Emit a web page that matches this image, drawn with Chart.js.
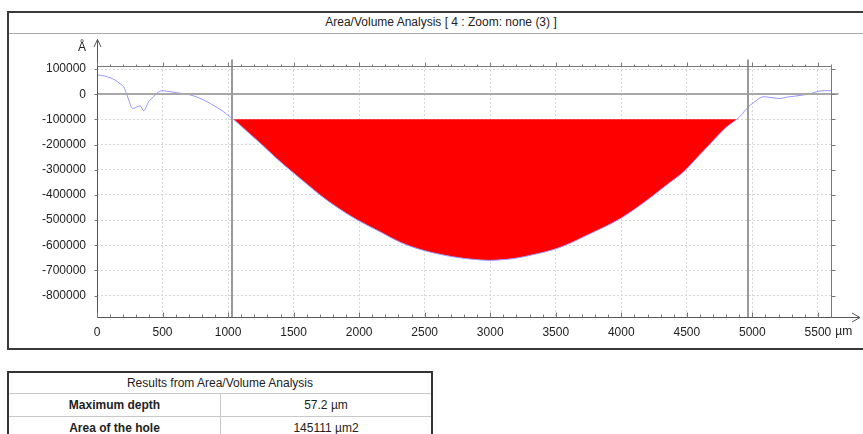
<!DOCTYPE html>
<html>
<head>
<meta charset="utf-8">
<script src="https://cdn.jsdelivr.net/npm/chart.js@4.4.1/dist/chart.umd.min.js"></script>
<style>
  body { margin: 0; background: #fff; font-family: "Liberation Sans", Arial, sans-serif; }
  #page { position: relative; width: 863px; height: 434px; overflow: hidden; }
  #frame { position: absolute; left: 7px; top: 11px; width: 890px; height: 335px; border: 2px solid #3a3a3a; border-right: none; }
  #title { position: absolute; left: 0; top: 0; width: 864px; height: 20px; border-bottom: 1px solid #a8a8a8; text-align: center; font-size: 12px; line-height: 19px; color: #222; }
  #chartBox { position: absolute; left: 0; top: 0; width: 863px; height: 350px; }
  #results { position: absolute; left: 7px; top: 371px; width: 426px; border-collapse: collapse; border: 2px solid #333; font-size: 12px; color: #222; }
  #results td { border: 1px solid #c8c8c8; text-align: center; padding: 0; }
  #results tr.head td { height: 20px; }
  #results tr.row td { height: 22px; }
  #results td.key { font-weight: bold; width: 211px; }
</style>
</head>
<body>
<div id="page">
  <div id="frame"><div id="title">Area/Volume Analysis [ 4 : Zoom: none (3) ]</div></div>
  <div id="chartBox"><canvas id="profileChart" width="863" height="350"></canvas></div>
  <table id="results">
    <tr class="head"><td colspan="2">Results from Area/Volume Analysis</td></tr>
    <tr class="row"><td class="key">Maximum depth</td><td>57.2 µm</td></tr>
    <tr class="row"><td class="key">Area of the hole</td><td>145111 µm2</td></tr>
  </table>
</div>
<script>
// profile: position (µm) and height (Å)
const profileX = [0, 60, 138, 180, 203, 229, 250, 267, 290, 305, 330, 356, 372, 394, 412, 432, 460, 496, 530, 560,
  620, 712, 780, 840, 900, 967, 1000, 1042, 1150, 1247, 1360, 1475, 1590, 1704, 1840, 1981, 2162, 2323, 2489, 2600,
  2718, 2850, 2998, 3100, 3179, 3330, 3484, 3610, 3738, 3870, 3993, 4120, 4247, 4360, 4476, 4578, 4650, 4705, 4760,
  4806, 4850, 4882, 4920, 4959, 5010, 5086, 5150, 5213, 5260, 5320, 5391, 5450, 5493, 5550, 5600];
const profileY = [77000, 72000, 56000, 40000, 30000, -3000, -35000, -56000, -55000, -50000, -47000, -66000, -55000, -30000, -20000, -10000, 5000, 14000, 12000, 10000,
  5000, -3000, -15000, -30000, -48000, -70000, -84000, -100000, -150000, -195000, -250000, -302000, -352000, -401000, -452000, -498000, -547000, -590000, -620000, -634000,
  -646000, -655000, -660000, -657000, -653000, -637000, -617000, -592000, -560000, -528000, -494000, -450000, -401000, -355000, -308000, -252000, -213000, -182000, -152000,
  -129000, -112000, -100000, -80000, -56000, -33000, -10000, -14000, -17000, -12000, -8000, -3000, 3000, 10000, 14000, 14000];

const xTicks = [0, 500, 1000, 1500, 2000, 2500, 3000, 3500, 4000, 4500, 5000, 5500];
const yTicks = [100000, 0, -100000, -200000, -300000, -400000, -500000, -600000, -700000, -800000];
const cursors = [1030, 4965];
const refLevel = -100000;

const profile = profileX.map((x, i) => ({ x: x, y: profileY[i] }));
const hole = profile.filter(p => p.y <= refLevel);

const font = { family: '"Liberation Sans", Arial, sans-serif', size: 12 };

function seg(ctx, x1, y1, x2, y2) {
    ctx.beginPath();
    ctx.moveTo(x1, y1);
    ctx.lineTo(x2, y2);
    ctx.stroke();
}

const decor = {
    id: 'decor',
    afterDatasetsDraw(chart) {
        const { ctx, chartArea: a, scales: { x, y } } = chart;
        const L = Math.round(a.left) + 0.5, R = Math.round(a.right) + 0.5;
        const T = Math.round(a.top) + 0.5, B = Math.round(a.bottom) + 0.5;
        ctx.save();

        // zero line
        ctx.strokeStyle = '#a8a8a8';
        ctx.lineWidth = 2;
        const zy = Math.round(y.getPixelForValue(0));
        seg(ctx, L, zy, R + 7, zy);

        // cursor lines
        ctx.strokeStyle = '#9a9a9a';
        cursors.forEach(v => {
            const px = Math.round(x.getPixelForValue(v));
            seg(ctx, px, T - 7, px, B);
        });

        // frame + axes
        ctx.lineWidth = 1;
        ctx.strokeStyle = '#7a7a7a';
        seg(ctx, L, T, R, T);
        seg(ctx, R, T, R, B);
        ctx.strokeStyle = '#555';
        seg(ctx, L, B, 860, B);
        seg(ctx, L, B, L, 39.5);
        // arrow heads
        seg(ctx, L, 39.5, L - 3.5, 47);
        seg(ctx, L, 39.5, L + 3.5, 47);
        seg(ctx, 860, B, 852, B - 4.5);
        seg(ctx, 860, B, 852, B + 4.5);

        // x minor/major ticks on bottom axis and top ruler
        ctx.strokeStyle = '#777';
        for (let v = 0; v <= x.max; v += 100) {
            const px = Math.round(x.getPixelForValue(v)) + 0.5;
            const len = v % 500 === 0 ? 5 : 3;
            seg(ctx, px, B, px, B - len);
            seg(ctx, px, T, px, T - len + 1);
        }
        // y ticks left and right
        yTicks.forEach(v => {
            const py = Math.round(y.getPixelForValue(v)) + 0.5;
            seg(ctx, L, py, L - 3, py);
            seg(ctx, R, py, R + 4, py);
        });

        // unit labels
        ctx.fillStyle = '#222';
        ctx.font = '12px "Liberation Sans", Arial, sans-serif';
        ctx.textAlign = 'center';
        ctx.textBaseline = 'alphabetic';
        ctx.fillText('Å', 82, 51);
        const last = xTicks[xTicks.length - 1];
        const w = ctx.measureText(String(last)).width;
        ctx.textAlign = 'left';
        ctx.textBaseline = 'top';
        ctx.fillText('µm', x.getPixelForValue(last) + w / 2 + 4, B + 8);
        ctx.restore();
    }
};

const chart = new Chart(document.getElementById('profileChart'), {
    type: 'line',
    data: {
        datasets: [{
            label: 'Profile',
            data: profile,
            borderColor: '#9696ff',
            borderWidth: 1,
            pointRadius: 0,
            fill: false,
            cubicInterpolationMode: 'monotone'
        }, {
            label: 'Hole',
            data: hole,
            borderColor: '#ff0000',
            borderWidth: 0,
            backgroundColor: '#ff0000',
            pointRadius: 0,
            fill: { value: refLevel },
            cubicInterpolationMode: 'monotone'
        }]
    },
    options: {
        responsive: false,
        animation: false,
        devicePixelRatio: 1,
        layout: { padding: { left: 0, top: 66, right: 32, bottom: 0 } },
        plugins: { legend: { display: false }, tooltip: { enabled: false } },
        scales: {
            x: {
                type: 'linear',
                min: 0,
                max: 5600,
                afterBuildTicks: s => { s.ticks = xTicks.map(v => ({ value: v })); },
                afterFit: s => { s.height = 33; },
                grid: { color: '#d8d8d8', drawTicks: false },
                border: { display: false, dash: [2, 2] },
                ticks: { font: font, color: '#222', padding: 8, maxRotation: 0, autoSkip: false, callback: v => String(v) }
            },
            y: {
                min: -885000,
                max: 112000,
                afterBuildTicks: s => { s.ticks = yTicks.map(v => ({ value: v })); },
                afterFit: s => { s.width = 97; },
                grid: { color: '#d8d8d8', drawTicks: false },
                border: { display: false, dash: [2, 2] },
                ticks: { font: font, color: '#222', padding: 11, autoSkip: false, callback: v => String(v) }
            }
        }
    },
    plugins: [decor]
});
</script>
</body>
</html>
